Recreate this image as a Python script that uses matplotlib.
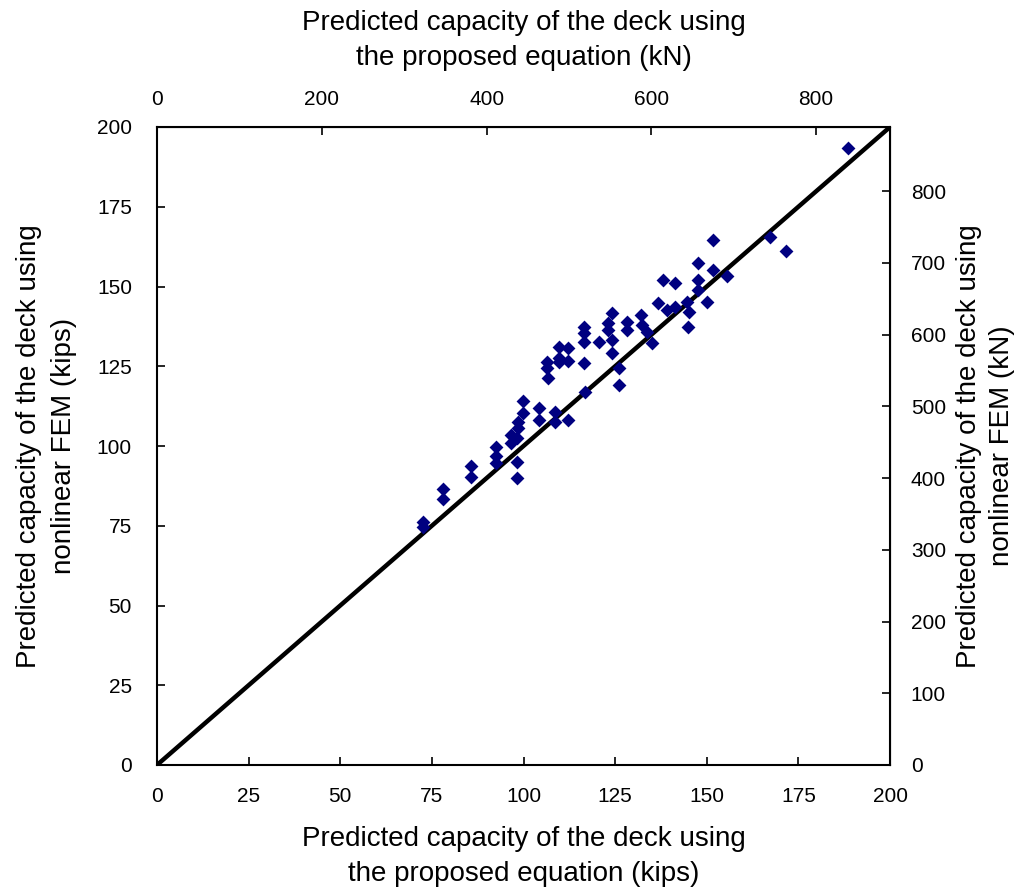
import matplotlib
matplotlib.use("Agg")
import matplotlib.pyplot as plt
import numpy as np

plt.rcParams['font.family'] = ['Liberation Sans', 'DejaVu Sans']

# Data (kips)
proposed_kips = [72.6, 72.6, 78.0, 78.0, 85.7, 85.7, 92.5, 92.5, 92.5, 96.6, 96.6, 98.2, 98.2, 98.2,
                 98.5, 98.5, 99.9, 99.9, 104.2, 104.2, 108.6, 108.6, 112.1, 106.4, 106.4, 106.7,
                 109.7, 109.7, 109.7, 112.1, 112.1, 116.8, 116.5, 116.5, 116.5, 120.6, 124.1, 123.1,
                 123.1, 124.1, 124.1, 128.2, 128.2, 132.1, 132.3, 133.7, 135.1, 136.7, 139.2, 116.5,
                 126.1, 126.1, 147.6, 151.7, 155.5, 138.1, 141.3, 147.6, 147.6, 141.3, 144.6, 145.2,
                 150.1, 144.9, 151.7, 167.3, 171.6, 188.5]
fem_kips = [76.2, 74.6, 86.5, 83.4, 93.7, 90.3, 99.7, 96.9, 94.7, 103.4, 100.9, 102.5, 95.0, 90.0,
            107.5, 105.6, 114.1, 110.3, 111.9, 108.2, 110.7, 107.5, 108.2, 126.3, 124.5, 121.3,
            131.0, 127.6, 126.3, 130.7, 126.6, 116.9, 137.3, 135.4, 132.6, 132.6, 141.7, 138.6,
            136.4, 133.2, 129.2, 138.9, 136.4, 141.1, 137.9, 135.7, 132.3, 144.8, 142.6, 126.0,
            124.5, 119.1, 157.4, 155.2, 153.3, 152.0, 151.1, 152.0, 148.9, 143.6, 145.1, 142.0,
            145.1, 137.3, 164.6, 165.5, 161.1, 193.4]
line_kips = [0, 200]
kips_ticks = [0, 25, 50, 75, 100, 125, 150, 175, 200]
kn_ticks = [0, 100, 200, 300, 400, 500, 600, 700, 800]
kn_top_ticks = [0, 200, 400, 600, 800]
KN_PER_KIP = 4.448

fig = plt.figure(figsize=(10.24, 8.9), dpi=100)
ax = fig.add_axes([157/1024, 1-765/890, (890-157)/1024, (765-127)/890])

ax.plot(line_kips, line_kips, color='black', lw=3.2, zorder=2)
ax.scatter(proposed_kips, fem_kips, marker='D', s=50, color='#000080', zorder=3, linewidths=0)

ax.set_xlim(0, 200)
ax.set_ylim(0, 200)
ax.set_xticks(kips_ticks)
ax.set_yticks(kips_ticks)
for s in ax.spines.values():
    s.set_linewidth(1.5)
ax.tick_params(direction='in', length=6, width=1.2, labelsize=15, pad=16)
ax.tick_params(axis='y', pad=18)

lab = dict(fontsize=20, linespacing=1.45)
ax.set_xlabel('Predicted capacity of the deck using\nthe proposed equation (kips)', labelpad=14, **lab)
ax.set_ylabel('Predicted capacity of the deck using\nnonlinear FEM (kips)', labelpad=14, **lab)

top = ax.secondary_xaxis('top', functions=(lambda x: x*KN_PER_KIP, lambda x: x/KN_PER_KIP))
top.set_xticks(kn_top_ticks)
top.tick_params(direction='in', length=6, width=1.2, labelsize=15, pad=13)
top.set_xlabel('Predicted capacity of the deck using\nthe proposed equation (kN)', labelpad=18, **lab)

right = ax.secondary_yaxis('right', functions=(lambda x: x*KN_PER_KIP, lambda x: x/KN_PER_KIP))
right.set_yticks(kn_ticks)
right.tick_params(direction='in', length=6, width=1.2, labelsize=15, pad=15)
right.set_ylabel('Predicted capacity of the deck using\nnonlinear FEM (kN)', labelpad=7,
                 fontsize=20, linespacing=1.35)

fig.savefig('out.png', dpi=100)
